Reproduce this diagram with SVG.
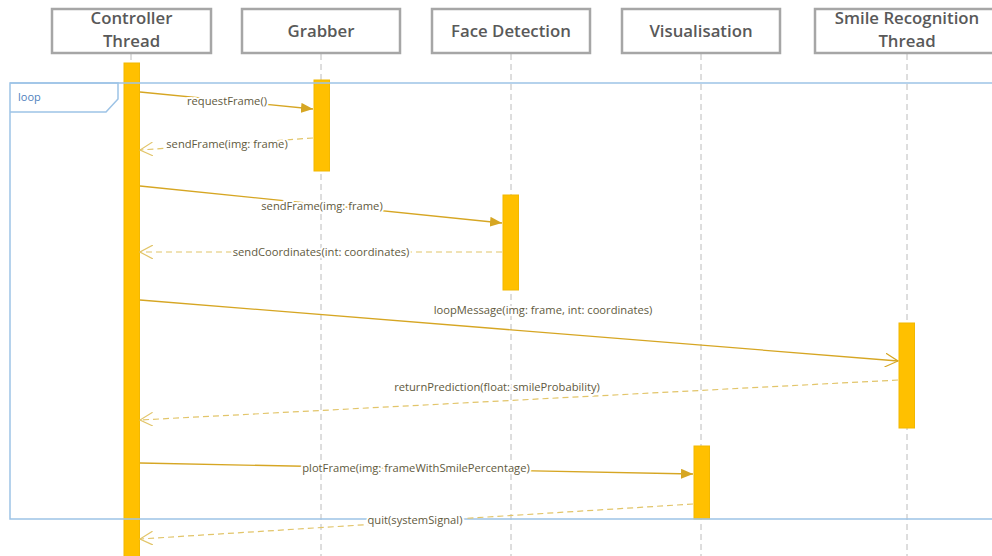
<svg xmlns="http://www.w3.org/2000/svg" width="992" height="556" viewBox="0 0 992 556">
<style>
.hdr{fill:#fff;stroke:#a6a6a6;stroke-width:2.5}
.ht{font-family:"Open Sans","Liberation Sans",sans-serif;font-weight:600;font-size:16.8px;fill:#595959;text-anchor:middle}
.life{stroke:#bcbcbc;stroke-width:1;stroke-dasharray:6,4;fill:none}
.bar{fill:#FFC000;stroke:#F2B800;stroke-width:1}
.msg{stroke:#D6A623;stroke-width:1.3;fill:none}
.ret{stroke:#E2C56A;stroke-width:1.2;stroke-dasharray:6,4;fill:none}
.lbl{font-family:"Open Sans","Liberation Sans",sans-serif;font-size:11.2px;fill:#5f5a40;text-anchor:middle;stroke:#fff;stroke-width:4;paint-order:stroke;stroke-linejoin:round}
.loopf{fill:none;stroke:#9DC3E6;stroke-width:1.5}
.loopt{font-family:"Open Sans","Liberation Sans",sans-serif;font-size:11px;fill:#4F81BD}
</style>
<defs>
<marker id="fill" viewBox="0 0 12 10" refX="12" refY="5" markerWidth="12" markerHeight="10" markerUnits="userSpaceOnUse" orient="auto">
<path d="M0,0 L12,5 L0,10 Z" fill="#D6A623"/>
</marker>
<marker id="open" viewBox="0 0 14 14" refX="13" refY="7" markerWidth="14" markerHeight="14" markerUnits="userSpaceOnUse" orient="auto">
<path d="M0,0 L13,7 L0,14" fill="none" stroke="#D6A623" stroke-width="1.2"/>
</marker>
<marker id="openr" viewBox="0 0 14 14" refX="13" refY="7" markerWidth="14" markerHeight="14" markerUnits="userSpaceOnUse" orient="auto">
<path d="M0,0 L13,7 L0,14" fill="none" stroke="#E2C56A" stroke-width="1.2"/>
</marker>
</defs>
<rect width="992" height="556" fill="#fff"/>

<g id="lifelines">
<line class="life" x1="131" y1="54" x2="131" y2="556"/>
<line class="life" x1="321" y1="54" x2="321" y2="556"/>
<line class="life" x1="511" y1="54" x2="511" y2="556"/>
<line class="life" x1="701" y1="54" x2="701" y2="556"/>
<line class="life" x1="907" y1="54" x2="907" y2="556"/>
</g>

<g id="controller">
<rect class="hdr" x="52" y="9" width="159" height="44"/>
<text class="ht" x="131.5" y="24">Controller</text>
<text class="ht" x="131.5" y="47">Thread</text>
<rect class="bar" x="124" y="63" width="15.5" height="495"/>
</g>
<g id="grabber">
<rect class="hdr" x="242" y="9" width="158" height="44"/>
<text class="ht" x="321" y="37">Grabber</text>
<rect class="bar" x="314" y="80" width="15.5" height="91"/>
</g>
<g id="face">
<rect class="hdr" x="432" y="9" width="158" height="44"/>
<text class="ht" x="511" y="37">Face Detection</text>
<rect class="bar" x="503" y="195" width="15.5" height="95"/>
</g>
<g id="visual">
<rect class="hdr" x="622" y="9" width="158" height="44"/>
<text class="ht" x="701" y="37">Visualisation</text>
<rect class="bar" x="694" y="446" width="15.5" height="73"/>
</g>
<g id="smile">
<rect class="hdr" x="815" y="9" width="184" height="44"/>
<text class="ht" x="907" y="24">Smile Recognition</text>
<text class="ht" x="907" y="47">Thread</text>
<rect class="bar" x="899" y="323" width="15.5" height="105"/>
</g>

<g id="loop">
<rect class="loopf" x="10" y="83" width="990" height="436"/>
<path class="loopf" d="M10,83 H118 V99 L106,112 H10"/>
<text class="loopt" x="18" y="101">loop</text>
</g>

<g id="connectors">
<line class="msg" x1="140" y1="92" x2="313" y2="109" marker-end="url(#fill)"/>
<text class="lbl" x="227" y="105">requestFrame()</text>

<line class="ret" x1="313" y1="138" x2="140" y2="150" marker-end="url(#openr)"/>
<text class="lbl" x="227" y="148">sendFrame(img: frame)</text>

<line class="msg" x1="140" y1="186" x2="502" y2="223" marker-end="url(#fill)"/>
<text class="lbl" x="322" y="210">sendFrame(img: frame)</text>

<line class="ret" x1="502" y1="252" x2="140" y2="252" marker-end="url(#openr)"/>
<text class="lbl" x="321" y="256">sendCoordinates(int: coordinates)</text>

<line class="msg" x1="140" y1="300" x2="898" y2="361" marker-end="url(#open)"/>
<text class="lbl" x="543" y="314">loopMessage(img: frame, int: coordinates)</text>

<line class="ret" x1="898" y1="380" x2="140" y2="420" marker-end="url(#openr)"/>
<text class="lbl" x="497" y="391">returnPrediction(float: smileProbability)</text>

<line class="msg" x1="140" y1="463" x2="693" y2="474" marker-end="url(#fill)"/>
<text class="lbl" x="416" y="472">plotFrame(img: frameWithSmilePercentage)</text>

<line class="ret" x1="693" y1="504" x2="140" y2="539" marker-end="url(#openr)"/>
<text class="lbl" x="415" y="524">quit(systemSignal)</text>
</g>
</svg>
